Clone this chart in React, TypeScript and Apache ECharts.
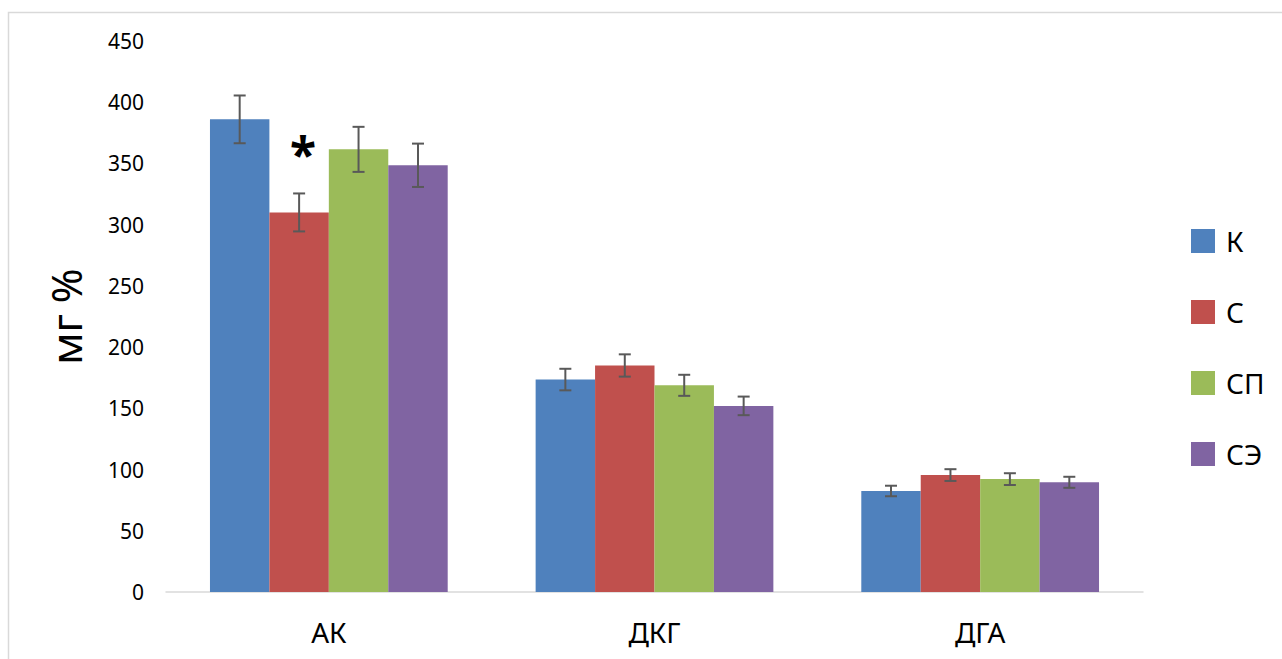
import React, { useEffect, useRef } from "react";
import * as echarts from "echarts";

const categories = ["АК", "ДКГ", "ДГА"];
const seriesNames = ["К", "С", "СП", "СЭ"];
const valK = [386, 173.5, 82.5];
const valC = [310, 185, 95.5];
const valSP = [361.5, 168.8, 92.2];
const valSE = [348.5, 152, 89.6];
const errK = [19.5, 8.8, 4.3];
const errC = [15.5, 9.1, 4.8];
const errSP = [18.4, 8.6, 4.8];
const errSE = [17.7, 7.6, 4.5];
const marksC = ["*", "", ""];
const yTicks = [0, 50, 100, 150, 200, 250, 300, 350, 400, 450];
const colors = ["#4f81bd", "#c0504d", "#9bbb59", "#8064a2"];

const values = [valK, valC, valSP, valSE];
const errors = [errK, errC, errSP, errSE];
const marks = [["", "", ""], marksC, ["", "", ""], ["", "", ""]];

const FONT = "'Noto Sans', sans-serif";
const CAT_GAP = 0.27;

export default function App() {
  const ref = useRef<HTMLDivElement>(null);
  useEffect(() => {
    if (!ref.current) return;
    const chart = echarts.init(ref.current, undefined, { renderer: "svg" });
    const barSeries = seriesNames.map((name, i) => ({
      name,
      type: "bar",
      data: values[i],
      barGap: "0%",
      barCategoryGap: CAT_GAP * 100 + "%",
      itemStyle: { color: colors[i] },
      z: 2,
    }));
    const errSeries = seriesNames.map((name, i) => ({
      name: name + "_err",
      type: "custom",
      z: 5,
      data: values[i].map((v, k) => [k, v - errors[i][k], v + errors[i][k], marks[i][k]]),
      encode: { x: 0, y: [1, 2] },
      renderItem: (params: any, api: any) => {
        const k = api.value(0);
        const lo = api.coord([k, api.value(1)]);
        const hi = api.coord([k, api.value(2)]);
        const band = api.size([1, 0])[0];
        const bw = (band * (1 - CAT_GAP)) / 4;
        const x = lo[0] + (i - 1.5) * bw;
        const cap = 6;
        const st = { stroke: "#595959", lineWidth: 2 };
        const children: any[] = [
          { type: "line", shape: { x1: x, y1: lo[1], x2: x, y2: hi[1] }, style: st },
          { type: "line", shape: { x1: x - cap, y1: lo[1], x2: x + cap, y2: lo[1] }, style: st },
          { type: "line", shape: { x1: x - cap, y1: hi[1], x2: x + cap, y2: hi[1] }, style: st },
        ];
        const m = marks[i][k];
        if (m) {
          children.push({
            type: "text",
            style: {
              text: m,
              x: x + 4,
              y: hi[1] - 40,
              align: "center",
              verticalAlign: "middle",
              font: "bold 48px " + FONT,
              fill: "#000",
            },
          });
        }
        return { type: "group", children };
      },
      silent: true,
    }));
    chart.setOption({
      animation: false,
      backgroundColor: "#fff",
      textStyle: { fontFamily: FONT },
      graphic: [
        {
          type: "rect",
          shape: { x: 8.5, y: 12.5, width: 1300, height: 700 },
          style: { fill: "none", stroke: "#d9d9d9", lineWidth: 1.5 },
          silent: true,
          z: -1,
        },
      ],
      grid: { left: 166, right: 139, top: 41, bottom: 67 },
      legend: {
        orient: "vertical",
        left: 1191,
        top: 227,
        itemWidth: 24,
        itemHeight: 24,
        itemGap: 43,
        padding: 0,
        icon: "rect",
        data: seriesNames,
        textStyle: { fontSize: 28, color: "#000", fontFamily: FONT, padding: [0, 0, 0, 6] },
      },
      xAxis: {
        type: "category",
        data: categories,
        axisLine: { show: true, lineStyle: { color: "#d9d9d9", width: 1.5 } },
        axisTick: { show: false },
        axisLabel: { fontSize: 28, color: "#000", margin: 26, fontFamily: FONT },
      },
      yAxis: {
        type: "value",
        min: yTicks[0],
        max: yTicks[yTicks.length - 1],
        interval: yTicks[1] - yTicks[0],
        axisLine: { show: false },
        axisTick: { show: false },
        splitLine: { show: false },
        axisLabel: { fontSize: 21, color: "#000", margin: 22, fontFamily: FONT },
        name: "мг %",
        nameLocation: "middle",
        nameRotate: 90,
        nameGap: 80,
        nameTextStyle: { fontSize: 42, color: "#000", fontFamily: FONT },
      },
      series: [...barSeries, ...errSeries],
    });
    return () => chart.dispose();
  }, []);
  return (
    <div
      ref={ref}
      style={{ position: "absolute", left: 0, top: 0, width: 1282, height: 659 }}
    />
  );
}
